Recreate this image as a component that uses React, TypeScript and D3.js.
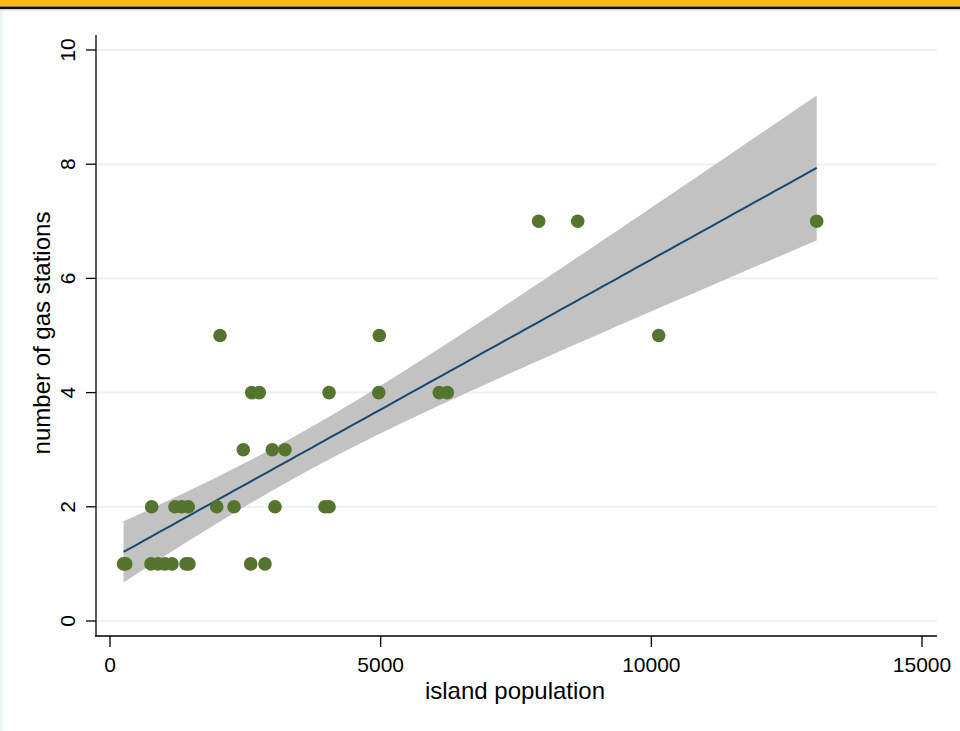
import React from "react";
import * as d3 from "d3";

const populationOnes = [250, 290, 757, 887, 1016, 1145, 1404, 1459, 2599, 2863];
const populationTwos = [770, 1201, 1325, 1446, 1971, 2291, 3048, 3972, 4046];
const populationThrees = [2462, 2998, 3233];
const populationFours = [2618, 2758, 4046, 4964, 6083, 6231];
const populationFives = [2032, 4975, 10136];
const populationSevens = [7919, 8640, 13055];

const groups: [number[], number][] = [
  [populationOnes, 1],
  [populationTwos, 2],
  [populationThrees, 3],
  [populationFours, 4],
  [populationFives, 5],
  [populationSevens, 7],
];

const xTicks = [0, 5000, 10000, 15000];
const yTicks = [0, 2, 4, 6, 8, 10];
const xTitle = "island population";
const yTitle = "number of gas stations";

const points = groups.flatMap(([xs, y]) => xs.map((x) => ({ x, y })));

const W = 960;
const H = 731;

function fit() {
  const n = points.length;
  const mx = d3.mean(points, (p) => p.x)!;
  const my = d3.mean(points, (p) => p.y)!;
  let sxx = 0, sxy = 0;
  points.forEach((p) => {
    sxx += (p.x - mx) ** 2;
    sxy += (p.x - mx) * (p.y - my);
  });
  const b = sxy / sxx;
  const a = my - b * mx;
  let sse = 0;
  points.forEach((p) => (sse += (p.y - a - b * p.x) ** 2));
  const s2 = sse / (n - 2);
  const t = 2.037;
  const xmin = d3.min(points, (p) => p.x)!;
  const xmax = d3.max(points, (p) => p.x)!;
  const grid = d3.range(0, 101).map((i) => xmin + ((xmax - xmin) * i) / 100);
  return grid.map((x) => {
    const yh = a + b * x;
    const se = Math.sqrt(s2 * (1 / n + (x - mx) ** 2 / sxx));
    return { x, y: yh, lo: yh - t * se, hi: yh + t * se };
  });
}

export default function App() {
  const x = d3.scaleLinear().domain([0, 15000]).range([110, 922]);
  const y = d3.scaleLinear().domain([0, 10]).range([621, 50]);
  const f = fit();
  const area = d3
    .area<{ x: number; lo: number; hi: number }>()
    .x((d) => x(d.x))
    .y0((d) => y(d.lo))
    .y1((d) => y(d.hi));
  const line = d3
    .line<{ x: number; y: number }>()
    .x((d) => x(d.x))
    .y((d) => y(d.y));
  const font = "'Liberation Sans', Arial, sans-serif";
  const plotLeft = 96;
  const plotRight = 937;
  const plotBottom = 636;
  const plotTop = 35;
  return (
    <svg
      width={W}
      height={H}
      style={{ position: "absolute", left: 0, top: 0, display: "block" }}
      fontFamily={font}
    >
      <rect x={0} y={0} width={W} height={H} fill="#ffffff" />
      <rect x={0} y={0} width={2.5} height={H} fill="#eaf2f3" />
      <rect x={0} y={0} width={W} height={6.5} fill="#fdb71e" />
      <rect x={0} y={6.5} width={W} height={2.5} fill="#111111" />
      <rect x={0} y={9} width={W} height={1.5} fill="#d6d6d6" />
      {yTicks.map((t) => (
        <line
          key={"g" + t}
          x1={plotLeft + 1}
          x2={plotRight}
          y1={y(t)}
          y2={y(t)}
          stroke="#eaf2f3"
          strokeWidth={2}
        />
      ))}
      <path d={area(f)!} fill="#c2c2c2" />
      <path d={line(f)!} fill="none" stroke="#1a476f" strokeWidth={2} />
      {points.map((p, i) => (
        <circle key={i} cx={x(p.x)} cy={y(p.y)} r={6.8} fill="#55752f" />
      ))}
      <line x1={plotLeft} x2={plotLeft} y1={plotTop} y2={plotBottom} stroke="#000" strokeWidth={1.3} />
      <line x1={plotLeft - 1} x2={plotRight} y1={plotBottom} y2={plotBottom} stroke="#000" strokeWidth={1.3} />
      {yTicks.map((t) => (
        <g key={"yt" + t}>
          <line x1={plotLeft - 10} x2={plotLeft} y1={y(t)} y2={y(t)} stroke="#000" strokeWidth={1.3} />
          <text
            transform={`translate(${75},${y(t)}) rotate(-90)`}
            textAnchor="middle"
            fontSize={21}
            fill="#000"
          >
            {t}
          </text>
        </g>
      ))}
      {xTicks.map((t) => (
        <g key={"xt" + t}>
          <line x1={x(t)} x2={x(t)} y1={plotBottom} y2={plotBottom + 11} stroke="#000" strokeWidth={1.3} />
          <text x={x(t)} y={plotBottom + 36} textAnchor="middle" fontSize={21} fill="#000">
            {t}
          </text>
        </g>
      ))}
      <text x={515} y={699} textAnchor="middle" fontSize={24} fill="#000">
        {xTitle}
      </text>
      <text
        transform={`translate(${50},${333}) rotate(-90)`}
        textAnchor="middle"
        fontSize={24}
        fill="#000"
      >
        {yTitle}
      </text>
    </svg>
  );
}
